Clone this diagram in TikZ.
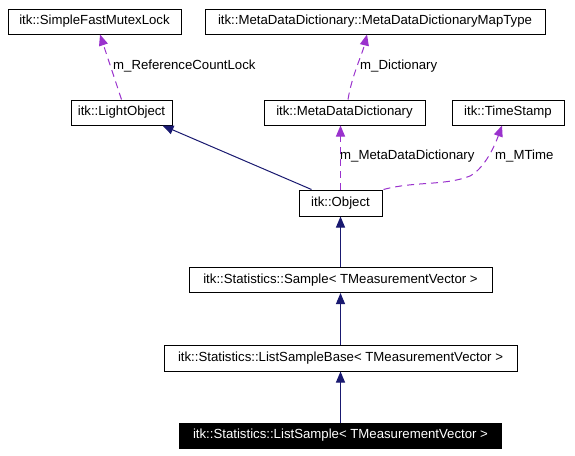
\documentclass[tikz,border=0pt]{standalone}
\usepackage{fontspec}
\setmainfont{Liberation Sans}
\usetikzlibrary{arrows.meta,calc}
\definecolor{inhblue}{RGB}{25,25,112}
\definecolor{usepurple}{RGB}{154,50,205}
\begin{document}
\begin{tikzpicture}[x=1pt,y=-1pt,
  cls/.style={draw=black, line width=1pt, minimum height=25pt, inner sep=0pt, font=\fontsize{13.2}{15}\selectfont},
  lbl/.style={anchor=west, inner sep=0pt, font=\fontsize{13.2}{15}\selectfont},
  inh/.style={draw=inhblue, line width=1pt, -{Triangle[length=11pt,width=9pt]}},
  use/.style={draw=usepurple, line width=1pt, dash pattern=on 7pt off 5pt, -{Triangle[length=11pt,width=9pt]}}]
\useasboundingbox (0,0) rectangle (575,455);
\fill[white] (0,0) rectangle (575,455);

\node[cls, minimum width=173pt] (mutex) at (94.5,21.5) {itk::SimpleFastMutexLock};
\node[cls, minimum width=340pt] (maptype) at (375,21.5) {itk::MetaDataDictionary::MetaDataDictionaryMapType};
\node[cls, minimum width=101pt] (light) at (121.5,112.5) {itk::LightObject};
\node[cls, minimum width=161pt] (mdd) at (344.5,112.5) {itk::MetaDataDictionary};
\node[cls, minimum width=112pt] (ts) at (508,112.5) {itk::TimeStamp};
\node[cls, minimum width=83pt, minimum height=26pt] (obj) at (340.5,203) {itk::Object};
\node[cls, minimum width=303pt] (sample) at (340.5,280) {itk::Statistics::Sample< TMeasurementVector >};
\node[cls, minimum width=353pt, minimum height=26pt] (lsb) at (340.5,358) {itk::Statistics::ListSampleBase< TMeasurementVector >};
\node[cls, fill=black, text=white, minimum width=322pt] (ls) at (340.5,435.5) {itk::Statistics::ListSample< TMeasurementVector >};

% inheritance
\draw[inh] (ls.north) -- (lsb.south);
\draw[inh] (lsb.north) -- (sample.south);
\draw[inh] (sample.north) -- (obj.south);
\draw[inh] ($(obj.north west)+(13,0)$) -- ($(light.south east)+(-10,0)$);

% usage
\draw[use] (light.north) -- ($(mutex.south)+(5.5,0)$);
\draw[use] ($(mdd.north)+(3.5,0)$) .. controls (352,75) and (362,55) .. ($(maptype.south)+(-8,0)$);
\draw[use] (obj.north) -- (obj.north |- mdd.south);
\draw[use] ($(obj.north east)+(1,0)$) .. controls (415,181) and (445,186) .. (470,176) .. controls (485,168) and (495,145) .. ($(ts.south)+(-6,0)$);

\node[lbl] (l1) at (113,66) {m\_ReferenceCountLock};
\node[lbl] (l2) at (360,66) {m\_Dictionary};
\node[lbl] (l3) at (340,156) {m\_MetaDataDictionary};
\node[lbl] (l4) at (495,156) {m\_MTime};
\end{tikzpicture}
\end{document}
